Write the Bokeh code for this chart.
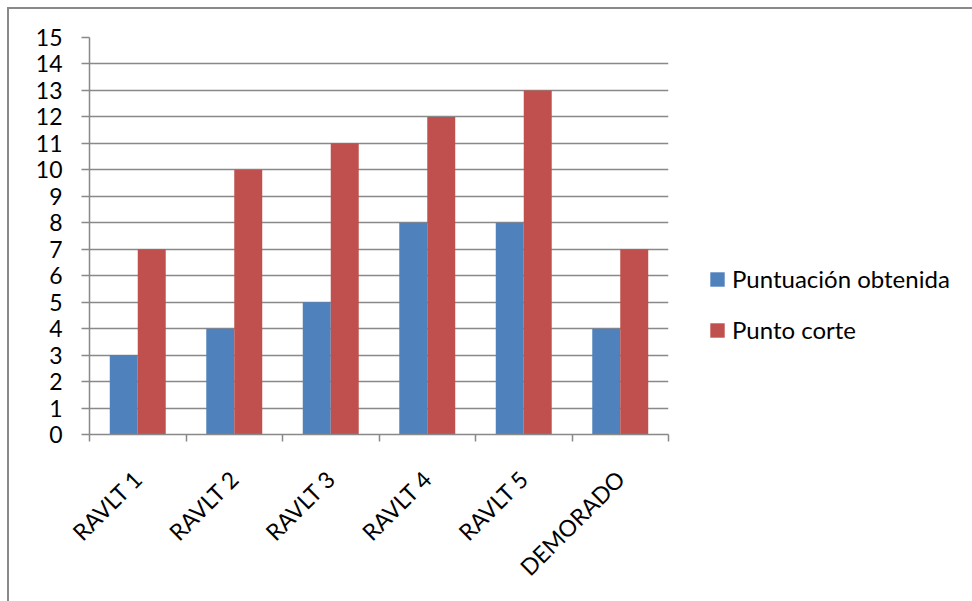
import math

from bokeh.embed import file_html
from bokeh.models import (FixedTicker, Legend, LegendItem, Range1d)
from bokeh.plotting import figure
from bokeh.resources import INLINE
from bokeh.transform import dodge

# Scores per RAVLT trial and the cut-off points
categories = ["RAVLT 1", "RAVLT 2", "RAVLT 3", "RAVLT 4", "RAVLT 5", "DEMORADO"]
puntuacion_obtenida = [3, 4, 5, 8, 8, 4]
punto_corte = [7, 10, 11, 12, 13, 7]
y_ticks = list(range(0, 16))

BLUE = "#4F81BD"
RED = "#C0504D"
GRID = "#898989"
FONT = "Lato"

x_pos = [i + 0.5 for i in range(len(categories))]
source = dict(x=x_pos, cat=categories, punt=puntuacion_obtenida, corte=punto_corte)

p = figure(
    width=963, height=592,
    frame_width=579, frame_height=397,
    min_border_left=80, min_border_top=28,
    min_border_right=304, min_border_bottom=167,
    x_range=Range1d(0, len(categories)), y_range=Range1d(0, 15),
    output_backend="svg", toolbar_location=None,
)
p.styles = {
    "margin-left": "7px",
    "margin-top": "7px",
    "border-left": "2px solid #898989",
    "border-top": "2px solid #898989",
}
p.outline_line_color = None
p.background_fill_color = "white"
p.border_fill_color = "white"

bar_w = 0.29
r1 = p.vbar(x=dodge("x", -bar_w / 2), top="punt", width=bar_w, source=source,
            fill_color=BLUE, line_color=None)
r2 = p.vbar(x=dodge("x", bar_w / 2), top="corte", width=bar_w, source=source,
            fill_color=RED, line_color=None)

# Value axis
p.yaxis.ticker = FixedTicker(ticks=y_ticks)
p.yaxis.axis_line_color = GRID
p.yaxis.axis_line_width = 1.5
p.yaxis.major_tick_line_color = GRID
p.yaxis.major_tick_line_width = 1.5
p.yaxis.major_tick_out = 8
p.yaxis.major_tick_in = 0
p.yaxis.minor_tick_line_color = None
p.yaxis.major_label_standoff = 19
p.yaxis.major_label_text_font = FONT
p.yaxis.major_label_text_font_size = "23px"
p.yaxis.major_label_text_color = "black"

# Category axis: labels at the centres, tick marks at the boundaries
p.xaxis.ticker = FixedTicker(ticks=x_pos, minor_ticks=list(range(len(categories) + 1)))
p.xaxis.major_label_overrides = {x: c for x, c in zip(x_pos, categories)}
p.xaxis.major_label_orientation = math.pi / 4
p.xaxis.axis_line_color = GRID
p.xaxis.axis_line_width = 1.5
p.xaxis.major_tick_line_color = None
p.xaxis.major_tick_out = 0
p.xaxis.major_tick_in = 0
p.xaxis.minor_tick_line_color = GRID
p.xaxis.minor_tick_line_width = 1.5
p.xaxis.minor_tick_out = 7
p.xaxis.minor_tick_in = 0
p.xaxis.major_label_standoff = 33
p.xaxis.major_label_text_font = FONT
p.xaxis.major_label_text_font_size = "23px"
p.xaxis.major_label_text_color = "black"

p.xgrid.grid_line_color = None
p.ygrid.grid_line_color = GRID
p.ygrid.grid_line_width = 1.5

legend = Legend(
    items=[LegendItem(label="Puntuación obtenida", renderers=[r1]),
           LegendItem(label="Punto corte", renderers=[r2])],
    location=(40, 90), orientation="vertical",
    border_line_color=None, background_fill_alpha=0,
    padding=0, margin=0, spacing=22,
    glyph_width=18, glyph_height=18, label_height=18, label_standoff=6,
    label_text_font=FONT, label_text_font_size="24px", label_text_color="black",
)
p.add_layout(legend, "right")

open("out.html", "w").write(file_html(p, INLINE))
